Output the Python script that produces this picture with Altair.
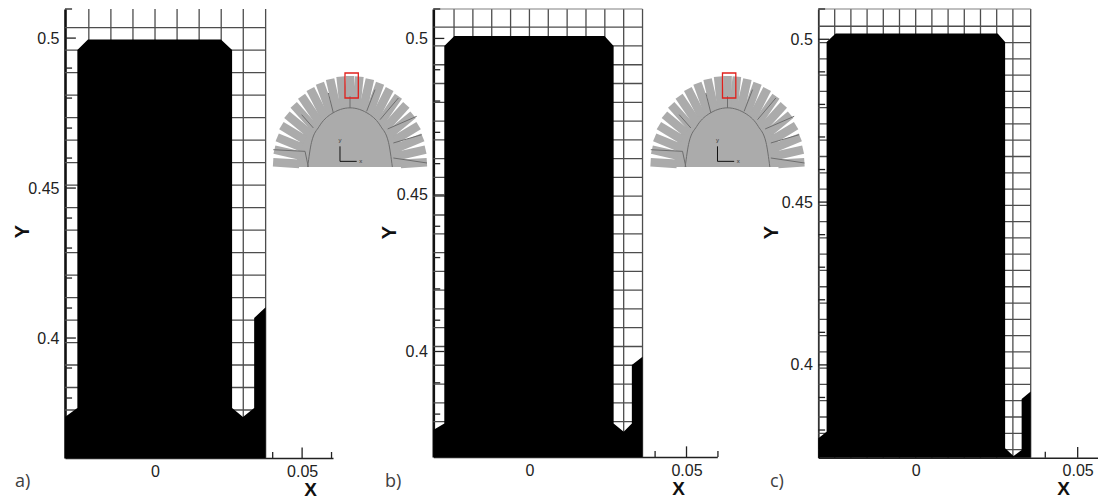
import altair as alt
import pandas as pd

FONT = "Liberation Sans"
MESH = "#4d4d4d"

# ---------- panel values ----------
a_mesh_x = [-0.0225, -0.015, -0.0075, 0, 0.0075, 0.015, 0.0225, 0.03, 0.0376]
a_mesh_y = [0.5035, 0.496, 0.4885, 0.481, 0.4735, 0.466, 0.4585, 0.451, 0.4435, 0.436,
            0.4285, 0.421, 0.4135, 0.406, 0.3985, 0.391, 0.3835, 0.376]
a_shape_x = [-0.0306, -0.0264, -0.0264, -0.0228, 0.0224, 0.0262, 0.0262, 0.0299, 0.0337, 0.0337, 0.0376]
a_shape_y = [0.3737, 0.3767, 0.496, 0.4995, 0.4995, 0.496, 0.3767, 0.3737, 0.3767, 0.4067, 0.4103]

b_mesh_x = [-0.024, -0.018, -0.012, -0.006, 0, 0.006, 0.012, 0.018, 0.024, 0.03, 0.036]
b_mesh_y = [0.5036, 0.4976, 0.4916, 0.4856, 0.4796, 0.4736, 0.4676, 0.4616, 0.4556, 0.4496, 0.4436,
            0.4376, 0.4316, 0.4256, 0.4196, 0.4136, 0.4076, 0.4016, 0.3956, 0.3896, 0.3836, 0.3776]
b_shape_x = [-0.0306, -0.0271, -0.0271, -0.0239, 0.0239, 0.0268, 0.0268, 0.03, 0.0326, 0.0326, 0.036]
b_shape_y = [0.3749, 0.377, 0.4976, 0.5008, 0.5008, 0.4976, 0.377, 0.3744, 0.377, 0.3957, 0.3983]

c_mesh_x = [-0.025, -0.02, -0.015, -0.01, -0.005, 0, 0.005, 0.01, 0.015, 0.02, 0.025, 0.03, 0.0355]
c_mesh_y = [0.504, 0.499, 0.494, 0.489, 0.484, 0.479, 0.474, 0.469, 0.464, 0.459, 0.454, 0.449, 0.444,
            0.439, 0.434, 0.429, 0.424, 0.419, 0.414, 0.409, 0.404, 0.399, 0.394, 0.389, 0.384, 0.379, 0.374]
c_shape_x = [-0.03006, -0.0275, -0.0275, -0.0247, 0.0253, 0.0276, 0.0276, 0.0302, 0.0327, 0.0327, 0.0355]
c_shape_y = [0.3775, 0.3795, 0.4992, 0.5018, 0.5018, 0.4992, 0.3744, 0.372, 0.3739, 0.3895, 0.3918]

y_minor = [0.49, 0.48, 0.47, 0.46, 0.44, 0.43, 0.42, 0.41, 0.39, 0.38, 0.37]
y_major = [0.5, 0.45, 0.4]
y_labels = [0.5, 0.45, 0.4]
x_labels = [0, 0.05]

# ---------- inset values ----------
tooth_angle = [3, 11, 19, 27, 35, 43, 51, 59, 67, 75, 83, 90, 97, 105, 113, 121, 129, 137, 145, 153, 161, 169, 177]
body_x = [-0.7, -0.66, -0.55, -0.4, -0.2, 0, 0.2, 0.4, 0.55, 0.66, 0.7]
body_y = [0, 0.233, 0.433, 0.574, 0.671, 0.7, 0.671, 0.574, 0.433, 0.233, 0]
hub_x = [-0.55, -0.5, -0.4, -0.25, 0, 0.25, 0.4, 0.5, 0.55]
hub_y = [0, 0.271, 0.446, 0.579, 0.65, 0.579, 0.446, 0.271, 0]
seg_x = [-0.476, -0.216, 0, 0.216, 0.39, 0.489, 0.563, 0.563, -0.996, -0.584]
seg_y = [0.429, 0.593, 0.648, 0.612, 0.52, 0.418, 0.264, 0.099, 0.19, 0.172]
seg_x2 = [-0.628, -0.281, 0, 0.325, 0.628, 0.866, 0.931, 1, -0.584, -0.541]
seg_y2 = [0.575, 0.813, 0.777, 0.85, 0.758, 0.557, 0.355, 0.044, 0.172, 0]


def seg_frame(rows):
    return pd.DataFrame(rows, columns=["x", "y", "x2", "y2"])


def panel(domx, domy, rx, ry, mesh_x, mesh_y, shape_x, shape_y, tick_lens, xmin_ticks, xmaj_ticks,
          lab, lab_pos, ax_w, ax_col, top_line, ttl_x, ttl_y, x_off=0):
    xs = alt.Scale(domain=domx, range=rx, nice=False, zero=False)
    ys = alt.Scale(domain=domy, range=ry, nice=False, zero=False)
    left, right = domx
    bottom, top = domy
    ymin_len, ymaj_len, xmin_len, xmaj_len = tick_lens

    x_axis = alt.Axis(values=x_labels, ticks=False, grid=False, labelFont=FONT, labelFontSize=16,
                      labelColor="#222222", labelPadding=5, domainColor="#222222", domainWidth=1.6,
                      format="~g", labelFlush=False, labelOverlap=False, offset=x_off, orient="bottom",
                      title="X", titleFont=FONT, titleFontSize=19, titleFontWeight="bold", titleColor="#111111",
                      titleX=ttl_x[0], titleY=ttl_x[1], titleAlign="center", titleBaseline="middle")
    y_axis = alt.Axis(values=y_labels, ticks=False, grid=False, labelFont=FONT, labelFontSize=16,
                      labelColor="#222222", labelPadding=6, domainColor=ax_col, domainWidth=ax_w,
                      format="~g", labelOverlap=False, offset=-rx[0], orient="left",
                      title="Y", titleFont=FONT, titleFontSize=20, titleFontWeight="bold", titleColor="#111111",
                      titleX=ttl_y[0], titleY=ttl_y[1], titleAlign="center", titleBaseline="middle")

    X = alt.X("x:Q", scale=xs, axis=None, title=None)
    Y = alt.Y("y:Q", scale=ys, axis=None, title=None)
    X2, Y2 = alt.X2("x2:Q"), alt.Y2("y2:Q")

    base = alt.Chart(pd.DataFrame({"x": domx, "y": domy})).mark_point(opacity=0).encode(
        x=alt.X("x:Q", scale=xs, axis=x_axis), y=alt.Y("y:Q", scale=ys, axis=y_axis))

    rows = [(m, top, m, bottom) for m in mesh_x] + [(left, m, mesh_x[-1], m) for m in mesh_y]
    mesh = alt.Chart(seg_frame(rows)).mark_rule(color=MESH, strokeWidth=1.3).encode(x=X, y=Y, x2=X2, y2=Y2)

    layers = [base, mesh]
    if top_line:
        tl = seg_frame([(left, top, mesh_x[-1], top)])
        layers.append(alt.Chart(tl).mark_rule(color="#808080", strokeWidth=1.2).encode(x=X, y=Y, x2=X2, y2=Y2))

    tick_rows = [(left, v, left + ymin_len, v) for v in y_minor + [top] if v >= bottom] + \
                [(left, v, left + ymaj_len, v) for v in y_major] + \
                [(v, bottom, v, bottom + xmin_len) for v in xmin_ticks] + \
                [(v, bottom, v, bottom + xmaj_len) for v in xmaj_ticks]
    layers.append(alt.Chart(seg_frame(tick_rows)).mark_rule(color="#222222", strokeWidth=1.3)
                  .encode(x=X, y=Y, x2=X2, y2=Y2))

    shape = pd.DataFrame({"x": shape_x, "y": shape_y, "y2": [bottom] * len(shape_x)})
    layers.append(alt.Chart(shape).mark_area(color="#000000", opacity=1, interpolate="linear")
                  .encode(x=X, y=Y, y2=Y2))

    label = pd.DataFrame({"x": [lab_pos[0]], "y": [lab_pos[1]], "t": [lab]})
    layers.append(alt.Chart(label).mark_text(font="Open Sans", fontSize=18, color="#404040", align="left",
                                             baseline="middle", clip=False)
                  .encode(x=X, y=Y, text="t:N"))
    return layers


def inset(rx, ry):
    xs = alt.Scale(domain=[-1, 1], range=rx, nice=False, zero=False)
    ys = alt.Scale(domain=[0, 1], range=ry, nice=False, zero=False)
    X = alt.X("x:Q", scale=xs, axis=None, title=None)
    Y = alt.Y("y:Q", scale=ys, axis=None, title=None)
    X2, Y2 = alt.X2("x2:Q"), alt.Y2("y2:Q")
    GREY = "#ababab"

    teeth = alt.Chart(pd.DataFrame({"a": tooth_angle})).transform_calculate(
        x="0.66*cos(datum.a*PI/180)", y="0.66*sin(datum.a*PI/180)",
        x2="cos(datum.a*PI/180)", y2="sin(datum.a*PI/180)",
    ).mark_rule(color=GREY, strokeWidth=8.6, strokeCap="butt").encode(x=X, y=Y, x2=X2, y2=Y2)

    body = pd.DataFrame({"x": body_x, "y": body_y, "y2": [0] * len(body_x)})
    body_l = alt.Chart(body).mark_area(color=GREY, opacity=1, interpolate="monotone").encode(x=X, y=Y, y2=Y2)

    hub = pd.DataFrame({"x": hub_x, "y": hub_y})
    hub_l = alt.Chart(hub).mark_line(color="#6e6e6e", strokeWidth=1, interpolate="monotone").encode(x=X, y=Y)

    segs = pd.DataFrame({"x": seg_x, "y": seg_y, "x2": seg_x2, "y2": seg_y2})
    seg_l = alt.Chart(segs).mark_rule(color="#6e6e6e", strokeWidth=1).encode(x=X, y=Y, x2=X2, y2=Y2)

    box = seg_frame([(-0.065, 0.758, 0.108, 1.033)])
    box_l = alt.Chart(box).mark_rect(fill=None, stroke="#e0201c", strokeWidth=1.3, clip=False).encode(
        x=X, y=Y, x2=X2, y2=Y2)

    triad = seg_frame([(-0.13, 0.062, 0.087, 0.062), (-0.13, 0.062, -0.13, 0.227)])
    triad_l = alt.Chart(triad).mark_rule(color="#111111", strokeWidth=1).encode(x=X, y=Y, x2=X2, y2=Y2)
    names = pd.DataFrame({"x": [0.139, -0.13], "y": [0.062, 0.3], "t": ["x", "y"]})
    names_l = alt.Chart(names).mark_text(font=FONT, fontSize=6, color="#333333", baseline="middle").encode(
        x=X, y=Y, text="t:N")
    return [body_l, teeth, hub_l, seg_l, box_l, triad_l, names_l]


pa = panel([-0.0306, 0.0605], [0.36, 0.5097], [57, 325], [450, 1], a_mesh_x, a_mesh_y, a_shape_x, a_shape_y,
           (0.0024, 0.0037, 0.002, 0.0035), [0.04, 0.06], [0.05], "a)", (-0.0476, 0.352), 2.6, "#111111", False,
           (302, 31), (-43, 223))
pb = panel([-0.0306, 0.0598], [0.3663, 0.5094], [425.3, 709.3], [449, 1], b_mesh_x, b_mesh_y, b_shape_x, b_shape_y,
           (0.0022, 0.0035, 0.0019, 0.0034), [0.04, 0.06], [0.05], "b)", (-0.046, 0.3583), 2.6, "#111111", True,
           (670, 31), (-44, 224), x_off=-1)
pc = panel([-0.03006, 0.05627], [0.3715, 0.5093], [810.3, 1090], [449.7, 1], c_mesh_x, c_mesh_y, c_shape_x, c_shape_y,
           (0.0021, 0.0034, 0.0018, 0.0033), [0.04], [0.05], "c)", (-0.045, 0.3641), 1.8, "#333333", True,
           (1055, 31), (-47, 224), x_off=-0.3)

ia = inset([265, 419], [159, 68])
ib = inset([642.5, 796.5], [159, 68])

chart = alt.layer(*(pa + pb + pc + ia + ib)).resolve_scale(x="independent", y="independent").properties(
    width=1090, height=450,
    padding={"left": 0, "top": 0, "right": 0, "bottom": 41},
    autosize=alt.AutoSizeParams(type="none"),
    background="#ffffff",
).configure_view(stroke=None)

chart.save("out.html", embed_options={"renderer": "svg", "actions": False})
